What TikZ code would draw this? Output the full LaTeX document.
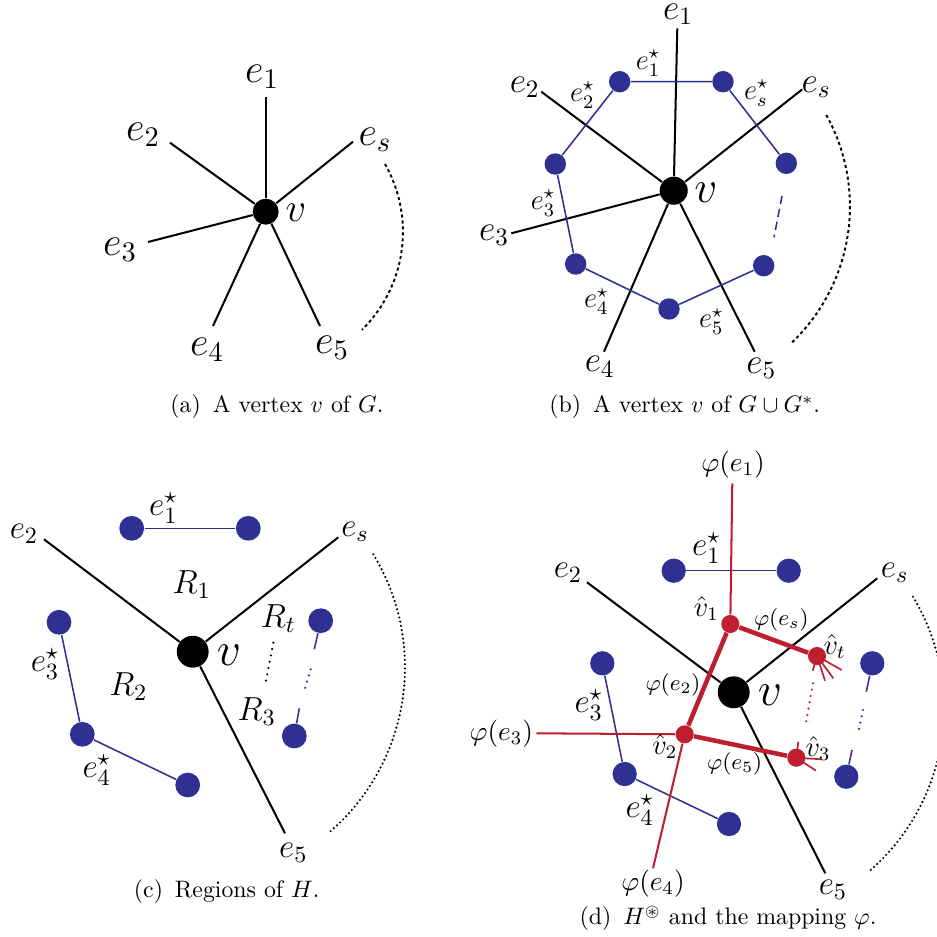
\RequirePackage{fix-cm}
\documentclass[tikz,border=0pt]{standalone}
\usepackage{amsmath,amssymb}
\usetikzlibrary{positioning}
\definecolor{dualblue}{RGB}{46,49,146}
\definecolor{mapred}{RGB}{190,30,45}
\newcommand{\fs}[1]{\fontsize{#1}{#1}\selectfont}

\begin{document}
\begin{tikzpicture}[x=0.42pt, y=-0.42pt,
    edge/.style={line width=0.85pt},
    dual/.style={draw=dualblue, line width=0.65pt},
    vtx/.style={circle, fill=black, inner sep=0pt, minimum size=#1},
    dvtx/.style={circle, fill=dualblue, inner sep=0pt, minimum size=#1},
    rvtx/.style={circle, fill=mapred, inner sep=0pt, minimum size=7.6pt},
    rthin/.style={draw=mapred, line width=0.85pt},
    rthick/.style={draw=mapred, line width=1.9pt},
    rstub/.style={draw=mapred, line width=0.7pt},
    dasharc/.style={line width=0.8pt, dash pattern=on 1.3pt off 1.2pt},
    dotarc/.style={line width=1pt, line cap=round, dash pattern=on 0pt off 1.8pt},
    sdot/.style={line width=1pt, line cap=round, dash pattern=on 0pt off 2.7pt},
    labA/.style={font=\fs{17}},
    labB/.style={font=\fs{15}},
    starB/.style={font=\fs{12}},
    labC/.style={font=\fs{14}},
    bigv/.style={font=\fs{20}},
    phibig/.style={font=\fs{11.5}},
    phism/.style={font=\fs{9.5}},
    hatv/.style={font=\fs{12}},
    capt/.style={font=\fs{10}}]
\clip (0,0) rectangle (937,937);

% (a)
\node[vtx=10.9pt] (va) at (265.7,211.7) {};
\coordinate (a1) at (265.7,97.3);
\coordinate (a2) at (170,142.7);
\coordinate (as) at (353,141.7);
\coordinate (a3) at (148,242);
\coordinate (a4) at (213,326);
\coordinate (a5) at (320,326);
\foreach \p in {a1,a2,as,a3,a4,a5} \draw[edge] (va) -- (\p);
\node[labA] (lva) at (296,213) {$v$};
\node[labA] (la1) at (262,77) {$e_1$};
\node[labA] (la2) at (143,135) {$e_2$};
\node[labA] (las) at (375,140) {$e_s$};
\node[labA] (la3) at (120,250) {$e_3$};
\node[labA] (la4) at (207,350) {$e_4$};
\node[labA] (la5) at (332,348) {$e_5$};
\draw[dasharc] (385,164) arc[start angle=29.6, end angle=-45.4, radius=57.75pt];
\node[capt] (capa) at (277,407) {(a)\enspace A vertex $v$ of $G$.};

% (b)
\node[vtx=11.8pt] (vb) at (673.7,190.7) {};
\coordinate (b1) at (677.3,28.3);
\coordinate (b2) at (541.3,91.7);
\coordinate (bs) at (802.3,89.3);
\coordinate (b3) at (511.3,233.3);
\coordinate (b4) at (604,351.7);
\coordinate (b5) at (754.7,351.7);
\foreach \p in {b1,b2,bs,b3,b4,b5} \draw[edge] (vb) -- (\p);
\node[dvtx=9pt] (d1) at (619.7,81.7) {};
\node[dvtx=9pt] (d2) at (723,81.7) {};
\node[dvtx=9pt] (d3) at (786.3,163.3) {};
\node[dvtx=9pt] (d4) at (763.7,265.7) {};
\node[dvtx=9pt] (d5) at (669,309) {};
\node[dvtx=9pt] (d6) at (575.7,264) {};
\node[dvtx=9pt] (d7) at (555.3,164) {};
\draw[dual] (d1) -- (d2) -- (d3);
\draw[dual] (d4) -- (d5) -- (d6) -- (d7) -- (d1);
\coordinate (bq1) at (782,196);
\coordinate (bq2) at (774,237.3);
\draw[dual, dash pattern=on 3.5pt off 2pt] (bq1) -- (bq2);
\node[font=\fs{19}] (lvb) at (706,193) {$v$};
\node[labB] (lb1) at (678,14) {$e_1$};
\node[labB] (lb2) at (524.7,87) {$e_2$};
\node[labB] (lbs) at (816.3,87) {$e_s$};
\node[labB] (lb3) at (494,235) {$e_3$};
\node[labB] (lb4) at (599.7,366.7) {$e_4$};
\node[labB] (lb5) at (761.3,368) {$e_5$};
\node[starB] (sb1) at (648,63) {$e_1^{\star}$};
\node[starB] (sb2) at (582.3,95) {$e_2^{\star}$};
\node[starB] (sbs) at (756.3,93) {$e_s^{\star}$};
\node[starB] (sb3) at (543,203) {$e_3^{\star}$};
\node[starB] (sb4) at (596.3,301.7) {$e_4^{\star}$};
\node[starB] (sb5) at (711.3,321.7) {$e_5^{\star}$};
\draw[dasharc] (826.3,115) arc[start angle=29, end angle=-46.5, radius=79.2pt];
\node[capt] (capb) at (684.7,406.7) {(b)\enspace A vertex $v$ of $G\cup G^{*}$.};

% (c)
\node[vtx=13.4pt] (vc) at (192.7,651.7) {};
\coordinate (c2) at (44,539.3);
\coordinate (cs) at (338.3,537.3);
\coordinate (c5) at (285,833.3);
\foreach \p in {c2,cs,c5} \draw[edge] (vc) -- (\p);
\node[dvtx=10.4pt] (ca) at (131.7,528.3) {};
\node[dvtx=10.4pt] (cb) at (248.3,528.3) {};
\node[dvtx=10.4pt] (cc) at (59,622.3) {};
\node[dvtx=10.4pt] (cd) at (82.3,734.3) {};
\node[dvtx=10.4pt] (cf) at (187.7,785) {};
\node[dvtx=10.4pt] (cg) at (320.7,620.7) {};
\node[dvtx=10.4pt] (ch) at (294.3,736) {};
\coordinate (cgt) at (314.3,649.3);
\coordinate (cht) at (299.3,708.3);
\draw[dual] (ca) -- (cb);
\draw[dual] (cc) -- (cd) -- (cf);
\draw[dual] (cg) -- (cgt);
\draw[dual] (ch) -- (cht);
\draw[sdot, dualblue] (310.7,669.3) -- (304,691.7);
\draw[sdot] (273.3,642.7) -- (265,686);
\node[bigv] (lvc) at (229,655) {$v$};
\node[labC] (lc2) at (24,534) {$e_2$};
\node[labC] (lcs) at (355,531.7) {$e_s$};
\node[labC] (lc5) at (293.3,853.3) {$e_5$};
\node[labC] (sc1) at (163.3,508.3) {$e_1^{\star}$};
\node[labC] (sc3) at (45,664) {$e_3^{\star}$};
\node[labC] (sc4) at (96.7,770) {$e_4^{\star}$};
\node[labC] (r1) at (191.7,585) {$R_1$};
\node[labC] (r2) at (128.3,686.7) {$R_2$};
\node[labC] (rt) at (278.3,618.3) {$R_t$};
\node[labC] (r3) at (256.7,711.7) {$R_3$};
\draw[dotarc] (373.3,554.3) arc[start angle=31.3, end angle=-49.7, radius=91.4pt];
\node[capt] (capc) at (226.7,891.7) {(c)\enspace Regions of $H$.};

% (d)
\node[vtx=13.4pt] (vd) at (733.7,692.3) {};
\coordinate (f2) at (587,582.3);
\coordinate (fs) at (877.3,578.3);
\coordinate (f5) at (825.3,873.3);
\foreach \p in {f2,fs,f5} \draw[edge] (vd) -- (\p);
\node[dvtx=10.2pt] (da) at (673.7,570.7) {};
\node[dvtx=10.2pt] (db) at (788.7,570.7) {};
\node[dvtx=10.2pt] (dc) at (602.3,663.3) {};
\node[dvtx=10.2pt] (dd) at (624.7,774) {};
\node[dvtx=10.2pt] (df) at (729,824) {};
\node[dvtx=10.2pt] (dg) at (872.3,663.3) {};
\node[dvtx=10.2pt] (dh) at (846.3,776.7) {};
\coordinate (dgt) at (866.3,691.7);
\coordinate (dht) at (852,750);
\draw[dual] (da) -- (db);
\draw[dual] (dc) -- (dd) -- (df);
\draw[dual] (dg) -- (dgt);
\draw[dual] (dh) -- (dht);
\draw[sdot, dualblue] (863,710) -- (858,733.3);
\node[rvtx] (h1) at (730.3,624) {};
\node[rvtx] (h2) at (684.7,734.3) {};
\node[rvtx] (ht) at (817,656) {};
\node[rvtx] (h3) at (796.3,757.7) {};
\coordinate (p1) at (732.3,483.3);
\coordinate (p3) at (536.3,733.3);
\coordinate (p4) at (653,868.3);
\draw[rthin] (h1) -- (p1);
\draw[rthin] (h2) -- (p3);
\draw[rthin] (h2) -- (p4);
\draw[rthick] (h2) -- (h1) -- (ht);
\draw[rthick] (h2) -- (h3);
\foreach \q in {(812.7,670.7),(825,680.7),(833.3,678.3),(841.7,670)}
  \draw[rstub] (ht.center) -- \q;
\foreach \q in {(798.3,741.7),(821.7,759.3),(816,770.7)}
  \draw[rstub] (h3.center) -- \q;
\draw[sdot, mapred] (813,683.3) -- (805.3,726.7);
\node[bigv] (lvd) at (770,695) {$v$};
\node[labC] (ld2) at (568,573.3) {$e_2$};
\node[labC] (lds) at (894.7,573.3) {$e_s$};
\node[labC] (ld5) at (833,890) {$e_5$};
\node[labC] (sd1) at (706.3,548.3) {$e_1^{\star}$};
\node[labC] (sd3) at (588.7,705) {$e_3^{\star}$};
\node[labC] (sd4) at (639.7,810) {$e_4^{\star}$};
\node[phibig] (q1) at (733,465) {$\varphi(e_1)$};
\node[phibig] (q3) at (501.3,733.3) {$\varphi(e_3)$};
\node[phibig] (q4) at (653,883.3) {$\varphi(e_4)$};
\node[phism] (q2) at (673,685) {$\varphi(e_2)$};
\node[phism] (qs) at (781.3,620) {$\varphi(e_s)$};
\node[phism] (q5) at (734.7,764) {$\varphi(e_5)$};
\node[hatv] (w1) at (706.3,608.3) {$\hat{v}_1$};
\node[hatv] (w2) at (664.7,746.7) {$\hat{v}_2$};
\node[hatv] (wt) at (834.7,646.7) {$\hat{v}_t$};
\node[hatv] (w3) at (818,748.3) {$\hat{v}_3$};
\draw[dotarc] (913,596.7) arc[start angle=31.1, end angle=-49.5, radius=90.5pt];
\node[capt] (capd) at (728,918.3) {(d)\enspace $H^{\circledast}$ and the mapping $\varphi$.};
\end{tikzpicture}
\end{document}
